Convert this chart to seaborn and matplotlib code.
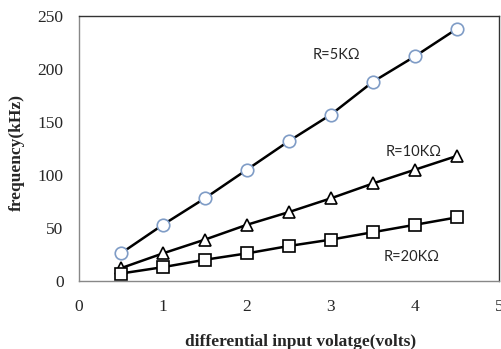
import matplotlib
matplotlib.use("Agg")
import matplotlib.pyplot as plt
import seaborn as sns
import pandas as pd

voltage = [0.5, 1.0, 1.5, 2.0, 2.5, 3.0, 3.5, 4.0, 4.5]
freq_5k = [26, 53, 78, 105, 132, 157, 188, 212, 238]
freq_10k = [12, 26, 39, 53, 65, 78, 92, 105, 118]
freq_20k = [7, 13, 20, 26, 33, 39, 46, 53, 60]
x_ticks = [0, 1, 2, 3, 4, 5]
y_ticks = [0, 50, 100, 150, 200, 250]
labels = ["R=5KΩ", "R=10KΩ", "R=20KΩ"]
label_pos = [(3.07, 213), (3.98, 122), (3.96, 23)]

sns.set_style("white")
fig = plt.figure(figsize=(5.02, 3.49), dpi=100)
ax = fig.add_axes([0.157, 0.195, 0.837, 0.759])

series = [
    (freq_5k, "o", "#7f9cc6"),
    (freq_10k, "^", "#000000"),
    (freq_20k, "s", "#000000"),
]
for vals, mk, ec in series:
    df = pd.DataFrame({"v": voltage, "f": vals})
    sns.lineplot(data=df, x="v", y="f", ax=ax, color="black", linewidth=1.8,
                 marker=mk, markersize=9, markerfacecolor="white",
                 markeredgecolor=ec, markeredgewidth=1.2)

for t, (x, y) in zip(labels, label_pos):
    ax.text(x, y, t, ha="center", va="center", fontsize=10.5, family=["Lato", "DejaVu Sans"])

ax.set_xlim(0, 5)
ax.set_ylim(0, 250)
ax.set_xticks(x_ticks)
ax.set_yticks(y_ticks)
ax.tick_params(direction="in", length=4, width=1, color="#888888",
               labelsize=12.5, labelfontfamily="Liberation Serif")
ax.tick_params(axis="x", pad=13)
ax.tick_params(axis="y", pad=11)
for s in ax.spines.values():
    s.set_color("#888888")
    s.set_linewidth(1)
ax.spines["top"].set_color("#333333")
ax.spines["right"].set_color("#333333")
ax.set_xlabel("differential input volatge(volts)", fontsize=12.5, fontweight="bold",
              family="Liberation Serif", labelpad=13)
ax.xaxis.set_label_coords(0.527, -0.2)
ax.set_ylabel("frequency(kHz)", fontsize=12.5, fontweight="bold",
              family="Liberation Serif")
ax.yaxis.set_label_coords(-0.128, 0.485)
fig.savefig("out.png", dpi=100)
